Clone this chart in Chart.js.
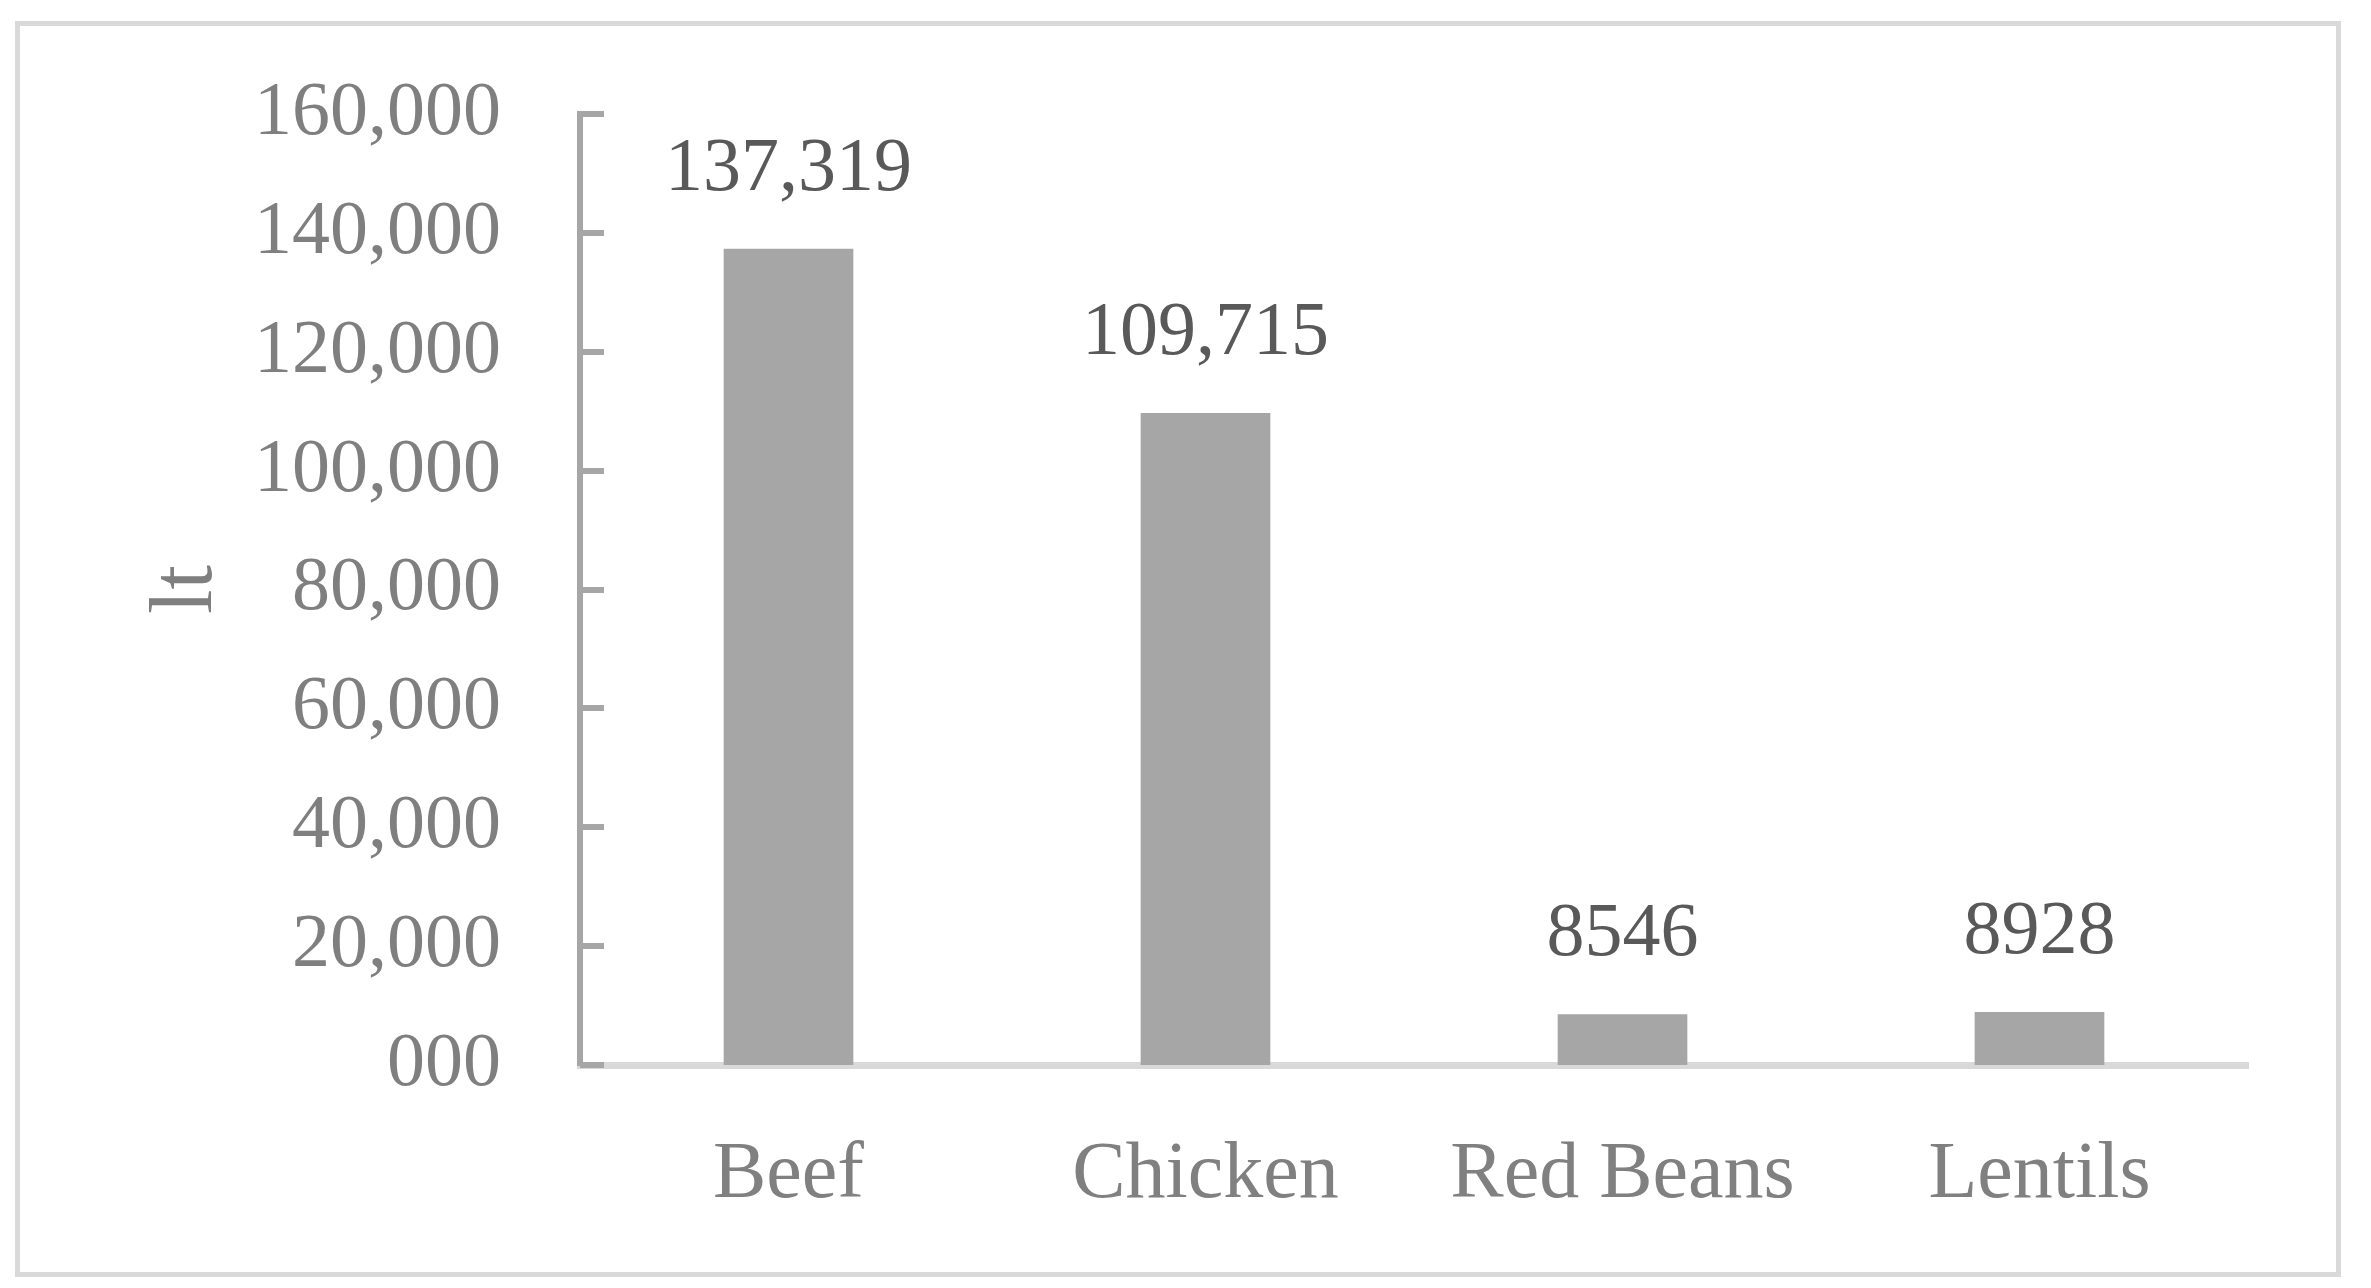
<!DOCTYPE html>
<html>
<head>
<meta charset="utf-8">
<script src="https://cdn.jsdelivr.net/npm/chart.js@4.4.1/dist/chart.umd.min.js"></script>
<style>
  html, body { margin: 0; padding: 0; background: #ffffff; }
  #frame { position: absolute; left: 15px; top: 21px; width: 2316px; height: 1246px; border: 5px solid #d9d9d9; }
  #wrap { position: absolute; left: 0; top: 0; width: 2371px; height: 1288px; }
</style>
</head>
<body>
<div id="frame"></div>
<div id="wrap"><canvas id="c" width="2371" height="1288"></canvas></div>
<script>
const categories = ['Beef', 'Chicken', 'Red Beans', 'Lentils'];
const values = [137319, 109715, 8546, 8928];
const valueLabels = ['137,319', '109,715', '8546', '8928'];
const yTickLabels = ['000', '20,000', '40,000', '60,000', '80,000', '100,000', '120,000', '140,000', '160,000'];
const yTitle = 'lt';

const FONT = '"Liberation Serif", "DejaVu Serif", serif';

const innerTicks = {
  id: 'innerTicks',
  afterDraw(chart) {
    const ys = chart.scales.y;
    const ctx = chart.ctx;
    ctx.save();
    ctx.fillStyle = '#a6a6a6';
    ys.ticks.forEach((t, i) => {
      const p = ys.getPixelForTick(i);
      ctx.fillRect(chart.chartArea.left, Math.round(p) - 3, 24, 6);
    });
    ctx.restore();
  }
};

const barLabels = {
  id: 'barLabels',
  afterDatasetsDraw(chart) {
    const ctx = chart.ctx;
    const meta = chart.getDatasetMeta(0);
    ctx.save();
    ctx.font = '76px ' + FONT;
    ctx.fillStyle = '#595959';
    ctx.textAlign = 'center';
    ctx.textBaseline = 'alphabetic';
    meta.data.forEach((bar, i) => {
      ctx.fillText(valueLabels[i], bar.x, bar.y - 59);
    });
    ctx.restore();
  }
};

new Chart(document.getElementById('c'), {
  type: 'bar',
  data: {
    labels: categories,
    datasets: [{
      data: values,
      backgroundColor: '#a6a6a6',
      borderWidth: 0,
      categoryPercentage: 1.0,
      barPercentage: 0.311
    }]
  },
  options: {
    responsive: false,
    animation: false,
    devicePixelRatio: 1,
    layout: { padding: { left: 0, right: 123, top: 114, bottom: 0 } },
    plugins: { legend: { display: false }, tooltip: { enabled: false } },
    scales: {
      x: {
        z: 1,
        grid: { display: false, drawTicks: false },
        border: { display: true, color: '#d9d9d9', width: 7 },
        ticks: { color: '#808080', font: { family: FONT, size: 80 }, padding: 63 },
        afterFit(s) { s.height = 223; }
      },
      y: {
        min: 0,
        max: 160000,
        grid: { display: false, drawTicks: false },
        border: { display: true, color: '#a6a6a6', width: 6 },
        ticks: {
          stepSize: 20000,
          color: '#7f7f7f',
          font: { family: FONT, size: 76 },
          padding: 79,
          callback: (v, i) => yTickLabels[i]
        },
        title: {
          display: true,
          text: yTitle,
          color: '#7f7f7f',
          font: { family: FONT, size: 88 },
          padding: { top: 135, bottom: 0 }
        },
        afterFit(s) { s.width = 580; s.paddingTop = 0; s.paddingBottom = 0; }
      }
    }
  },
  plugins: [innerTicks, barLabels]
});
</script>
</body>
</html>
